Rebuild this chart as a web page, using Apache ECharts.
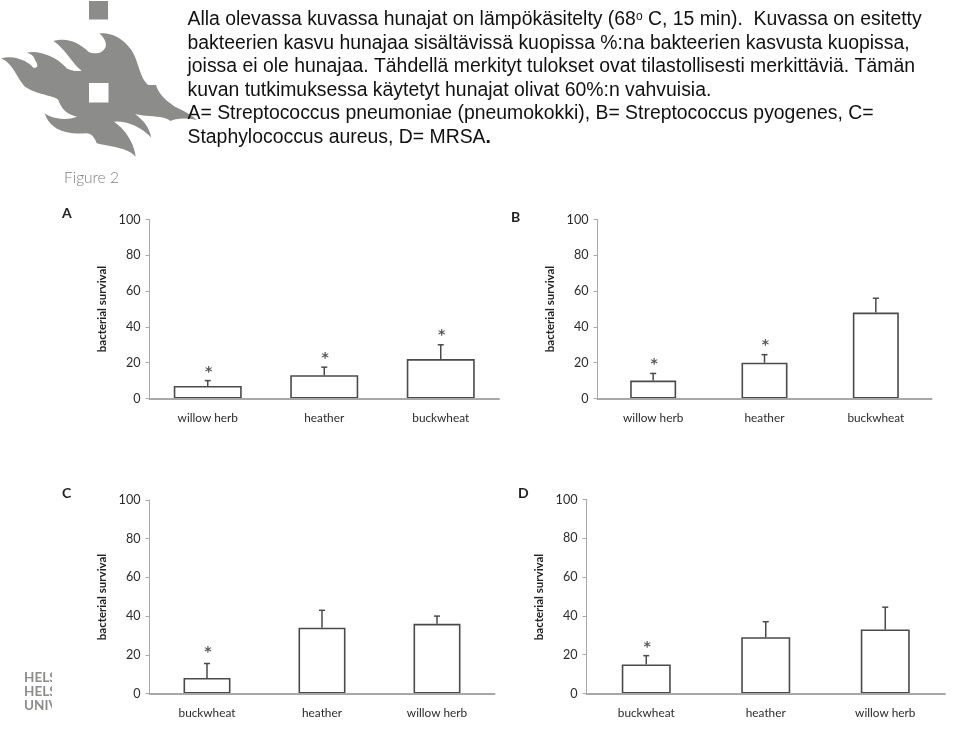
<!DOCTYPE html>
<html><head><meta charset="utf-8">
<style>html,body{margin:0;padding:0;background:#fff}#c{width:960px;height:733px}</style>
<script src="https://cdn.jsdelivr.net/npm/echarts@6/dist/echarts.min.js"></script>
</head><body><div id="c"></div>
<script>
const catsAB = ['willow herb','heather','buckwheat'];
const catsCD = ['buckwheat','heather','willow herb'];
const valuesA = [7,13,22];
const valuesB = [10,20,48];
const valuesC = [8,34,36];
const valuesD = [15,29,33];
const upperA = [10,17.5,30];
const upperB = [14,24.5,56];
const upperC = [15.5,43,40];
const upperD = [19.5,37,44.5];
const starsA = [15,23,36];
const starsB = [19.5,30,null];
const starsC = [22,null,null];
const starsD = [24.5,null,null];
const yTicks = {min:0,max:100,interval:20};
const yTitle = 'bacterial survival';
const textLines = [
 'Alla olevassa kuvassa hunajat on lämpökäsitelty (68{sup|o} C, 15 min).  Kuvassa on esitetty',
 'bakteerien kasvu hunajaa sisältävissä kuopissa %:na bakteerien kasvusta kuopissa,',
 'joissa ei ole hunajaa. Tähdellä merkityt tulokset ovat tilastollisesti merkittäviä. Tämän',
 'kuvan tutkimuksessa käytetyt hunajat olivat 60%:n vahvuisia.',
 'A= Streptococcus pneumoniae (pneumokokki), B= Streptococcus pyogenes, C=',
 'Staphylococcus aureus, D= MRSA{b|.}'
];
const footerLines = ['HELS','HELS','UNIV'];

const panels = [
 {name:'A',cats:catsAB,v:valuesA,u:upperA,s:starsA,grid:{left:149.5,top:219.5,width:349.5,height:179},bw:68,lx:62,ly:206,tx:102,ty:309},
 {name:'B',cats:catsAB,v:valuesB,u:upperB,s:starsB,grid:{left:597.5,top:219.5,width:334,height:179},bw:46,lx:511,ly:210,tx:550,ty:309},
 {name:'C',cats:catsCD,v:valuesC,u:upperC,s:starsC,grid:{left:149.5,top:500,width:345,height:193.5},bw:47,lx:62,ly:486,tx:102,ty:597},
 {name:'D',cats:catsCD,v:valuesD,u:upperD,s:starsD,grid:{left:586.5,top:499.5,width:358.5,height:194},bw:49,lx:518,ly:486,tx:539,ty:597}
];
const font='Lato, "Noto Sans", sans-serif';
const ink='#2b2b2b', axisGrey='#a8a8a8';
const grids=[],xAxes=[],yAxes=[],series=[],graphic=[];
panels.forEach((p,i)=>{
 grids.push(p.grid);
 xAxes.push({type:'category',gridIndex:i,data:p.cats,axisTick:{show:false},z:6,
  axisLine:{lineStyle:{color:axisGrey,width:2}},
  axisLabel:{color:ink,fontFamily:font,fontSize:11.8,margin:14}});
 yAxes.push({type:'value',gridIndex:i,min:yTicks.min,max:yTicks.max,interval:yTicks.interval,splitLine:{show:false},
  axisLine:{show:true,lineStyle:{color:axisGrey,width:1}},
  axisTick:{show:true,length:4,lineStyle:{color:axisGrey}},
  axisLabel:{color:ink,fontFamily:font,fontSize:12.6,margin:9}});
 series.push({type:'bar',xAxisIndex:i,yAxisIndex:i,data:p.v,barWidth:p.bw,silent:true,
  itemStyle:{color:'#fff',borderColor:'#4a4a4a',borderWidth:1.6},z:3});
 series.push({type:'custom',xAxisIndex:i,yAxisIndex:i,silent:true,z:2,
  data:p.v.map((d,k)=>[k,d,p.u[k]]),encode:{x:0,y:[1,2]},
  renderItem:(params,api)=>{
   const a=api.coord([api.value(0),api.value(1)]), b=api.coord([api.value(0),api.value(2)]);
   const st={stroke:'#4a4a4a',lineWidth:1.5,fill:'none'};
   return {type:'group',children:[
    {type:'line',shape:{x1:a[0],y1:a[1],x2:b[0],y2:b[1]},style:st},
    {type:'line',shape:{x1:b[0]-3,y1:b[1],x2:b[0]+3,y2:b[1]},style:st}]};
  }});
 series.push({type:'scatter',xAxisIndex:i,yAxisIndex:i,silent:true,symbolSize:0,z:4,
  data:p.s.map((d,k)=>d==null?null:[k,d]).filter(Boolean),
  label:{show:true,position:'inside',offset:[1,1],formatter:'*',color:ink,fontFamily:'"DejaVu Sans"',fontSize:14,fontWeight:'bold'}});
 graphic.push({type:'text',left:p.lx,top:p.ly,style:{text:p.name,font:'bold 14px '+font,fill:'#222'}});
 graphic.push({type:'text',x:p.tx,y:p.ty,rotation:Math.PI/2,
  style:{text:yTitle,font:'bold 11.5px '+font,fill:'#222',align:'center',verticalAlign:'middle'}});
});
textLines.forEach((t,i)=>{
 graphic.push({type:'text',x:187.5,y:20+i*23.5,z:20,style:{text:t,fontFamily:'"Liberation Sans"',fontSize:19.4,fill:'#111',verticalAlign:'middle',
  rich:{sup:{fontFamily:'"Liberation Sans"',fontSize:12,verticalAlign:'top',fill:'#111'},b:{fontFamily:'"Liberation Sans"',fontSize:19.4,fontWeight:'bold',fill:'#111'}}}});
});
// University logo (decoration): outline traced in a 3x frame, flattened to a polygon
const logoCurves = [[298,100],[340,95,385,125,405,170],[420,210,425,240,445,255],[468,255,468,255,468,255],[475,280,495,300,525,320],[550,332,575,345,590,360],[560,352,530,355,512,363],[490,345,430,350,405,342],[430,360,450,385,453,413],[430,385,380,360,342,365],[370,385,400,420,407,470],[385,445,340,440,290,430],[285,415,275,400,260,400],[200,405,150,390,134,340],[160,358,200,362,232,350],[205,345,185,330,175,300],[160,285,110,285,75,260],[50,235,40,190,3,175],[40,165,80,180,100,203],[115,205,115,195,105,180],[100,165,90,160,78,158],[120,150,170,170,200,205],[215,213,235,215,245,212],[215,190,195,145,160,123],[200,110,240,130,265,155],[285,165,310,160,317,140],[320,125,310,110,298,100]];
const logoPts=[];
let cur=logoCurves[0];
logoCurves.slice(1).forEach(c=>{
 for(let k=1;k<=12;k++){const t=k/12,m=1-t;
  logoPts.push([(m*m*m*cur[0]+3*m*m*t*c[0]+3*m*t*t*c[2]+t*t*t*c[4])/3,(m*m*m*cur[1]+3*m*m*t*c[1]+3*m*t*t*c[3]+t*t*t*c[5])/3]);}
 cur=[c[4],c[5]];
});
graphic.push({type:'polygon',z:10,shape:{points:logoPts},style:{fill:'#8c8d8a'}});
graphic.push({type:'rect',z:11,shape:{x:89,y:1,width:19,height:18.5},style:{fill:'#8c8d8a'}});
graphic.push({type:'rect',z:11,shape:{x:89,y:83,width:19.5,height:19.5},style:{fill:'#fff'}});
graphic.push({type:'text',x:64,y:178,z:11,style:{text:'Figure 2',font:'300 15.5px Lato',fill:'#7c7d7a',verticalAlign:'middle'}});
footerLines.forEach((t,i)=>graphic.push({type:'text',x:24,y:678+i*14,z:11,style:{text:t,font:'bold 13.5px '+font,fill:'#8c8d8a',verticalAlign:'middle'}}));
graphic.push({type:'rect',z:12,shape:{x:52,y:668,width:8,height:46},style:{fill:'#fff'}});

const chart=echarts.init(document.getElementById('c'),null,{renderer:'canvas'});
chart.setOption({animation:false,backgroundColor:'#fff',grid:grids,xAxis:xAxes,yAxis:yAxes,series,graphic:{elements:graphic}});
</script></body></html>
